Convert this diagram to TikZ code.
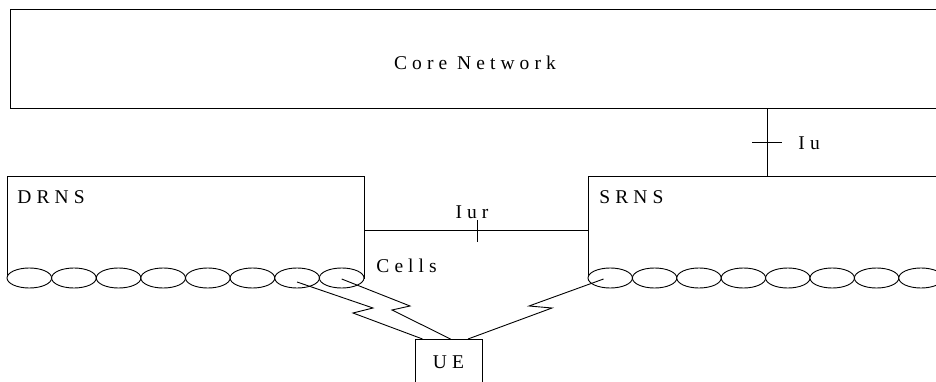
\documentclass[tikz,border=0pt]{standalone}
\usepackage{fontspec}
\setmainfont{Liberation Serif}
\newfontfamily\spacedfont[LetterSpace=26]{Liberation Serif}
\usetikzlibrary{positioning, shapes.geometric}

\begin{document}
\begin{tikzpicture}[
  x=1pt, y=-1pt,
  line width=0.9pt,
  netbox/.style={draw, rectangle, inner sep=0pt, anchor=north west},
  cell/.style={draw, ellipse, fill=white, inner sep=0pt, minimum height=20pt},
  tag/.style={inner sep=0pt, font=\spacedfont\fontsize{19.5}{22}\selectfont}
]
  \clip (0,0) rectangle (936,382);

  % network blocks
  \node[netbox, minimum width=950pt, minimum height=99pt] (core) at (10,9) {};
  \node[tag] (corelbl) at (475,63) {Core Network};
  \node[netbox, minimum width=357pt, minimum height=102pt] (drns) at (7,176) {};
  \node[netbox, minimum width=370pt, minimum height=102pt] (srns) at (588,176) {};
  \node[tag, anchor=north west] at ([xshift=10pt,yshift=-14pt]drns.north west) {DRNS};
  \node[tag, anchor=north west] at ([xshift=11pt,yshift=-14pt]srns.north west) {SRNS};

  % cells
  \foreach \i in {1,...,8} {
    \node[cell, minimum width=44.6pt] (d\i) at ({7+44.625*(\i-0.5)},278) {};
    \node[cell, minimum width=44.4pt] (s\i) at ({588+44.4*(\i-0.5)},278) {};
  }
  \node[tag, anchor=west] (cellslbl) at (376,265.5) {Cells};

  % interfaces
  \coordinate (iutick) at (767,142);
  \draw (core.south -| iutick) -- (srns.north -| iutick);
  \draw ([xshift=-15pt]iutick) -- ([xshift=15pt]iutick);
  \node[tag, anchor=west] (iulbl) at (798,143) {Iu};
  \coordinate (iurtick) at (477,230);
  \draw (drns.east |- iurtick) -- (srns.west |- iurtick);
  \draw ([yshift=10pt]iurtick) -- ([yshift=-12pt]iurtick);
  \node[tag] (iurlbl) at (472,212) {Iur};

  % UE and radio links
  \node[draw, rectangle, inner sep=0pt, minimum width=67pt, minimum height=46pt, anchor=north,
        font=\spacedfont\fontsize{19.5}{22}\selectfont] (ue) at (448.5,339) {UE};
  \draw ([yshift=-4pt]d7.center) -- (373,308) -- (353,313) -- ([xshift=8pt]ue.north west);
  \draw ([yshift=-1pt]d8.center) -- (410,306) -- (392,310) -- ([xshift=2pt]ue.north);
  \draw ([xshift=16pt,yshift=-1pt]s1.west) -- (529,306) -- (552,308) -- ([xshift=19.5pt]ue.north);
\end{tikzpicture}
\end{document}
